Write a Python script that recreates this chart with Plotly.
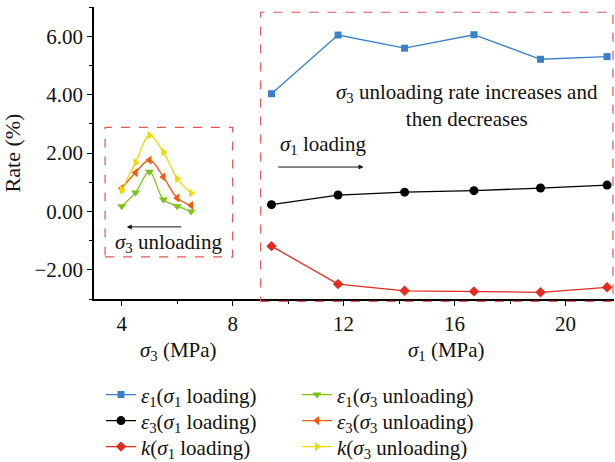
import plotly.graph_objects as go

# sigma1 loading data
s1_x = [9.4, 11.8, 14.2, 16.7, 19.1, 21.5]
e1_s1 = [4.03, 6.04, 5.59, 6.05, 5.21, 5.30]
e3_s1 = [0.23, 0.56, 0.66, 0.71, 0.80, 0.90]
k_s1 = [-1.19, -2.49, -2.72, -2.74, -2.77, -2.60]

# sigma3 unloading data
s3_x = [4.0, 4.5, 5.0, 5.5, 6.0, 6.5]
e1_s3 = [0.18, 0.65, 1.36, 0.41, 0.18, 0.0]
e3_s3 = [0.79, 1.33, 1.76, 1.18, 0.46, 0.21]
k_s3 = [0.73, 1.67, 2.61, 2.03, 1.12, 0.63]

x_ticks = [4, 8, 12, 16, 20]
y_ticks = [-2, 0, 2, 4, 6]

FONT = "Liberation Serif, Times New Roman, serif"
FS = 21

BLUE = "#3a80c8"
BLACK = "#000000"
RED = "#e32b22"
GREEN = "#7cc315"
ORANGE = "#f05c12"
YELLOW = "#ecdc00"
BOX = "#e85555"
TXT = "#111111"

fig = go.Figure()

def add(x, y, name, color, symbol, size, legend, spline=False):
    fig.add_trace(go.Scatter(
        x=x, y=y, name=name, mode="lines+markers", legend=legend,
        line=dict(color=color, width=1.3, shape="spline" if spline else "linear", smoothing=1.0),
        marker=dict(color=color, symbol=symbol, size=size),
    ))

add(s1_x, e1_s1, "<i>ε</i><sub>1</sub>(<i>σ</i><sub>1</sub> loading)", BLUE, "square", 7, "legend2")
add(s1_x, e3_s1, "<i>ε</i><sub>3</sub>(<i>σ</i><sub>1</sub> loading)", BLACK, "circle", 9, "legend3")
add(s1_x, k_s1, "<i>k</i>(<i>σ</i><sub>1</sub> loading)", RED, "diamond", 8, "legend4")
add(s3_x, e1_s3, "<i>ε</i><sub>1</sub>(<i>σ</i><sub>3</sub> unloading)", GREEN, "triangle-down", 8, "legend5", True)
add(s3_x, e3_s3, "<i>ε</i><sub>3</sub>(<i>σ</i><sub>3</sub> unloading)", ORANGE, "triangle-left", 8, "legend6", True)
add(s3_x, k_s3, "<i>k</i>(<i>σ</i><sub>3</sub> unloading)", YELLOW, "triangle-right", 8, "legend7", True)

shapes = [
    dict(type="rect", xref="x", yref="y", x0=3.40, x1=8.0, y0=-1.56, y1=2.88,
         line=dict(color=BOX, width=1.2, dash="dash")),
    dict(type="rect", xref="paper", yref="paper", x0=0.3205, x1=0.998, y0=-0.008, y1=0.982,
         line=dict(color=BOX, width=1.2, dash="dash")),
]

annotations = [
    dict(x=16.44, y=3.64, xref="x", yref="y", showarrow=False,
         text="<i>σ</i><sub>3</sub> unloading rate increases and<br>then decreases",
         font=dict(family=FONT, size=FS, color=TXT)),
    dict(x=11.26, y=2.27, xref="x", yref="y", showarrow=False,
         text="<i>σ</i><sub>1</sub> loading", font=dict(family=FONT, size=FS, color=TXT)),
    dict(x=5.69, y=-1.09, xref="x", yref="y", showarrow=False,
         text="<i>σ</i><sub>3</sub> unloading", font=dict(family=FONT, size=FS, color=TXT)),
    dict(x=12.72, y=1.52, ax=9.59, ay=1.52, xref="x", yref="y", axref="x", ayref="y",
         text="", showarrow=True, arrowhead=2, arrowsize=1, arrowwidth=1, arrowcolor=TXT),
    dict(x=4.18, y=-0.53, ax=6.2, ay=-0.53, xref="x", yref="y", axref="x", ayref="y",
         text="", showarrow=True, arrowhead=2, arrowsize=1, arrowwidth=1, arrowcolor=TXT),
    dict(x=6.05, y=-0.178, xref="x", yref="paper", showarrow=False, yanchor="middle",
         text="<i>σ</i><sub>3</sub> (MPa)", font=dict(family=FONT, size=FS, color=TXT)),
    dict(x=15.72, y=-0.178, xref="x", yref="paper", showarrow=False, yanchor="middle",
         text="<i>σ</i><sub>1</sub> (MPa)", font=dict(family=FONT, size=FS, color=TXT)),
]

def leg(x, y):
    return dict(xref="container", yref="container", x=x, y=y,
                xanchor="left", yanchor="top", orientation="h",
                bgcolor="rgba(255,255,255,0)",
                font=dict(family=FONT, size=FS, color=TXT), itemwidth=30)

ROW = [0.1895, 0.1332, 0.0769]
fig.update_layout(
    width=615, height=462,
    margin=dict(l=94, r=1, t=7, b=163, autoexpand=False),
    plot_bgcolor="white", paper_bgcolor="white",
    font=dict(family=FONT, size=FS, color=TXT),
    shapes=shapes, annotations=annotations,
    legend2=leg(0.1642, ROW[0]),
    legend3=leg(0.1642, ROW[1]),
    legend4=leg(0.1642, ROW[2]),
    legend5=leg(0.483, ROW[0]),
    legend6=leg(0.483, ROW[1]),
    legend7=leg(0.483, ROW[2]),
    xaxis=dict(range=[3, 21.75], tickvals=x_ticks, showgrid=False, zeroline=False,
               showline=True, linecolor="black", linewidth=1.5,
               ticks="outside", ticklen=5, tickwidth=1.2, tickcolor="black",
               minor=dict(dtick=2, tick0=0, ticks="outside", ticklen=3, tickcolor="black", tickwidth=1),
               tickfont=dict(family=FONT, size=FS, color=TXT)),
    yaxis=dict(range=[-3, 7], tickvals=y_ticks, tickformat=".2f", showgrid=False, zeroline=False,
               showline=True, linecolor="black", linewidth=1.5,
               ticks="outside", ticklen=5, tickwidth=1.2, tickcolor="black",
               minor=dict(dtick=2, tick0=1, ticks="outside", ticklen=3, tickcolor="black", tickwidth=1),
               title=dict(text="Rate (%)", font=dict(family=FONT, size=22, color=TXT), standoff=8),
               tickfont=dict(family=FONT, size=FS, color=TXT)),
)

fig.write_html("out.html", config={"displayModeBar": False},
               post_script="document.body.style.margin='0';")
